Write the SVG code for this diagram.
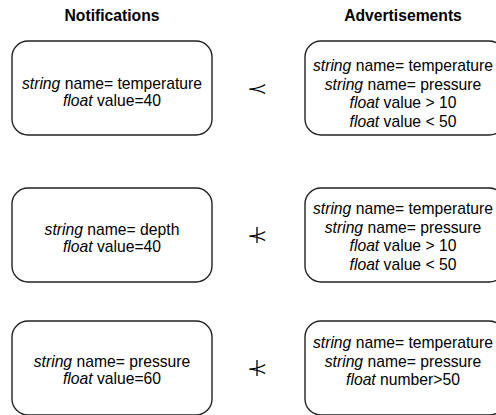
<svg xmlns="http://www.w3.org/2000/svg" width="496" height="415" viewBox="0 0 496 415">
  <style>
    .box { fill: #fff; stroke: #222; stroke-width: 1.4; }
    .t { font-family: "Liberation Sans", Arial, sans-serif; font-size: 15.7px; fill: #000; text-anchor: middle; }
    .h { font-family: "Liberation Sans", Arial, sans-serif; font-size: 15.7px; font-weight: bold; fill: #000; text-anchor: middle; }
    .rel { font-family: "DejaVu Sans", sans-serif; font-size: 22px; fill: #000; text-anchor: middle; }
    .neg { stroke: #000; stroke-width: 1.3; }
    .i { font-style: italic; }
  </style>
  <rect width="496" height="415" fill="#fff"/>

  <!-- column headers -->
  <text class="h" x="112" y="21">Notifications</text>
  <text class="h" x="403" y="21">Advertisements</text>

  <!-- notifications -->
  <g id="notif1">
    <rect class="box" x="12" y="41" width="200" height="94" rx="16"/>
    <text class="t" x="112" y="89"><tspan class="i">string</tspan> name= temperature</text>
    <text class="t" x="112" y="106"><tspan class="i">float</tspan> value=40</text>
  </g>
  <g id="notif2">
    <rect class="box" x="12" y="188" width="200" height="94" rx="16"/>
    <text class="t" x="112" y="235"><tspan class="i">string</tspan> name=  depth</text>
    <text class="t" x="112" y="252"><tspan class="i">float</tspan> value=40</text>
  </g>
  <g id="notif3">
    <rect class="box" x="12" y="321" width="200" height="94" rx="16"/>
    <text class="t" x="112" y="367"><tspan class="i">string</tspan> name= pressure</text>
    <text class="t" x="112" y="384"><tspan class="i">float</tspan> value=60</text>
  </g>

  <!-- advertisements -->
  <g id="adv1">
    <rect class="box" x="305" y="41" width="200" height="94" rx="16"/>
    <text class="t" x="403" y="71"><tspan class="i">string</tspan> name= temperature</text>
    <text class="t" x="403" y="89.5"><tspan class="i">string</tspan> name= pressure</text>
    <text class="t" x="403" y="108"><tspan class="i">float</tspan> value &gt; 10</text>
    <text class="t" x="403" y="126.5"><tspan class="i">float</tspan> value &lt; 50</text>
  </g>
  <g id="adv2">
    <rect class="box" x="305" y="188" width="200" height="94" rx="16"/>
    <text class="t" x="403" y="214"><tspan class="i">string</tspan> name= temperature</text>
    <text class="t" x="403" y="232.5"><tspan class="i">string</tspan> name= pressure</text>
    <text class="t" x="403" y="251"><tspan class="i">float</tspan> value &gt; 10</text>
    <text class="t" x="403" y="269.5"><tspan class="i">float</tspan> value &lt; 50</text>
  </g>
  <g id="adv3">
    <rect class="box" x="305" y="321" width="200" height="94" rx="16"/>
    <text class="t" x="403" y="348"><tspan class="i">string</tspan> name= temperature</text>
    <text class="t" x="403" y="366.5"><tspan class="i">string</tspan> name= pressure</text>
    <text class="t" x="403" y="385"><tspan class="i">float</tspan> number&gt;50</text>
  </g>

  <!-- relations: precedes / does not precede (glyph flattened to the relation's proportions) -->
  <g id="relations">
    <text class="rel" transform="translate(257,88) scale(1.15,0.7)" x="0" y="8">≺</text>
    <text class="rel" transform="translate(257,235) scale(1.15,0.7)" x="0" y="8">≺</text>
    <line class="neg" x1="257" y1="227" x2="257" y2="243"/>
    <text class="rel" transform="translate(257,368) scale(1.15,0.7)" x="0" y="8">≺</text>
    <line class="neg" x1="257" y1="360" x2="257" y2="376"/>
  </g>
</svg>
